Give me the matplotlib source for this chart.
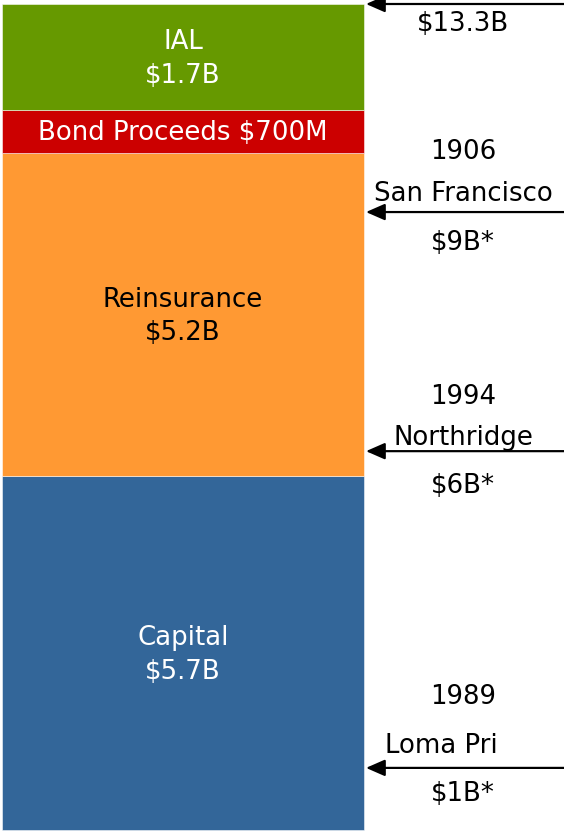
import matplotlib
matplotlib.use('Agg')
import matplotlib.pyplot as plt
from matplotlib.transforms import Bbox

# funding layers, bottom to top ($B)
layers = ['Capital', 'Reinsurance', 'Bond Proceeds', 'IAL']
amounts = [5.7, 5.2, 0.7, 1.7]
layer_text = ['Capital\n$5.7B', 'Reinsurance\n$5.2B', 'Bond Proceeds $700M', 'IAL\n$1.7B']
colors = ['#336699', '#FF9933', '#CC0000', '#669900']
text_colors = ['white', 'black', 'white', 'white']

# loss markers on the right ($B level)
loss_levels = [13.3, 9.95, 6.1, 1.0]
loss_years = ['', '1906', '1994', '1989']
loss_names = ['', 'San Francisco', 'Northridge', 'Loma Prieta']
loss_amounts = ['$13.3B', '$9B*', '$6B*', '$1B*']

# label offsets from the arrow (px)
year_off = [0, 60, 54, 71]
name_off = [0, 18, 13, 22]
amt_off = [20, 31, 35, 26]

W, H = 564, 832
DPI = 72
FS = 26
fig = plt.figure(figsize=(W / DPI, H / DPI), dpi=DPI)
ax = fig.add_axes([0, 0, 1, 1])

total = sum(amounts)
px_per_b = 826 / total
ax.set_xlim(0, W)
ax.set_ylim(-2 / px_per_b, total + 4 / px_per_b)
ax.axis('off')

bottom = 0
for amt, txt, c, tc in zip(amounts, layer_text, colors, text_colors):
    ax.bar(183, amt, width=362, bottom=bottom, color=c,
           edgecolor=(1, 1, 1, 0.5), linewidth=1)
    ax.annotate(txt, xy=(183, bottom + amt / 2), xytext=(0, -2),
                textcoords='offset points', ha='center', va='center',
                color=tc, fontsize=FS, linespacing=1.38)
    bottom += amt

for i, lvl in enumerate(loss_levels):
    ax.annotate('', xy=(366, lvl), xytext=(W, lvl),
                arrowprops=dict(arrowstyle='-|>,head_length=0.8,head_width=0.35',
                                mutation_scale=20, lw=2.2, color='black',
                                shrinkA=0, shrinkB=0))
    ax.annotate(loss_amounts[i], xy=(463, lvl), xytext=(0, -amt_off[i]),
                textcoords='offset points', ha='center', va='center', fontsize=FS)
    if not loss_names[i]:
        continue
    ax.annotate(loss_years[i], xy=(463, lvl), xytext=(0, year_off[i]),
                textcoords='offset points', ha='center', va='center', fontsize=FS)
    if loss_names[i] == 'Loma Prieta':
        # name is cut off in the original
        t = ax.annotate(loss_names[i], xy=(385, lvl), xytext=(0, name_off[i]),
                        textcoords='offset points', ha='left', va='center', fontsize=FS)
        t.set_clip_box(Bbox.from_extents(0, 0, 497, H))
        t.set_clip_on(True)
    else:
        ax.annotate(loss_names[i], xy=(463, lvl), xytext=(0, name_off[i]),
                    textcoords='offset points', ha='center', va='center', fontsize=FS)

fig.savefig('out.png', dpi=DPI)
